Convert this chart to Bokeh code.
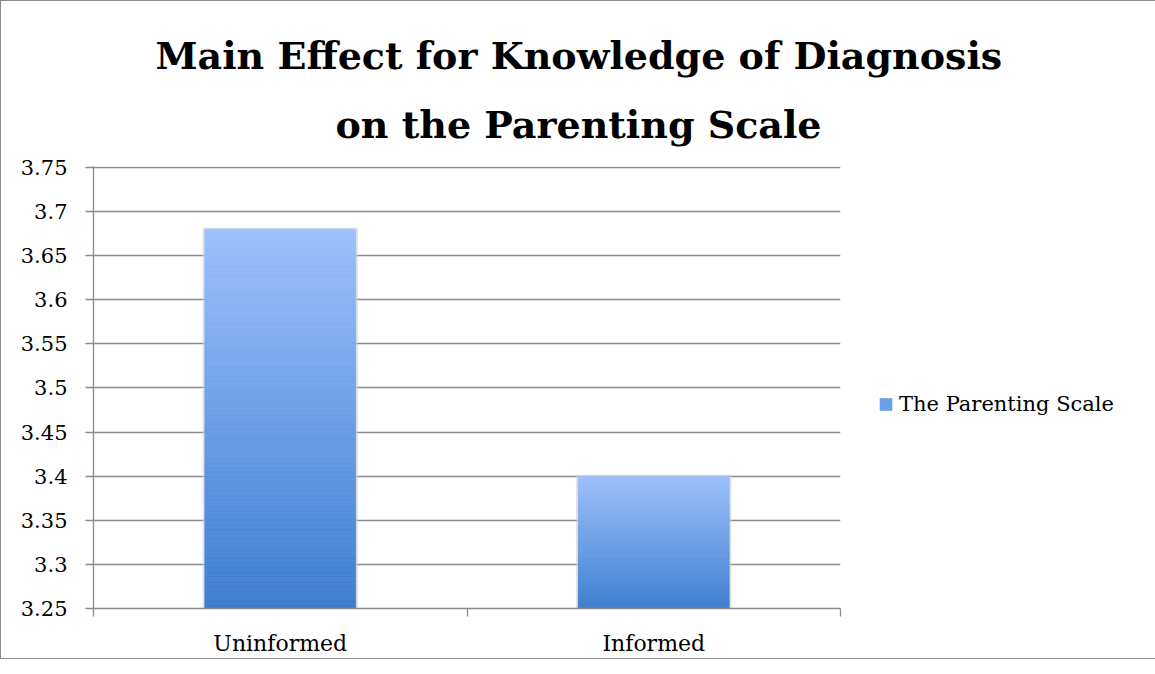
import numpy as np
from bokeh.plotting import figure
from bokeh.models import Range1d, FixedTicker, Legend, LegendItem, Title
from bokeh.embed import file_html
from bokeh.resources import INLINE

# ---- data ----
title_lines = ["Main Effect for Knowledge of Diagnosis", "on the Parenting Scale"]
categories = ["Uninformed", "Informed"]
values = [3.68, 3.40]
series_name = "The Parenting Scale"
y_ticks = [3.25, 3.30, 3.35, 3.40, 3.45, 3.50, 3.55, 3.60, 3.65, 3.70, 3.75]
y_labels = ["3.25", "3.3", "3.35", "3.4", "3.45", "3.5", "3.55", "3.6", "3.65", "3.7", "3.75"]
y_min, y_max = 3.25, 3.75

SERIF = "DejaVu Serif"
GRID = "#8c8c8c"

p = figure(frame_width=747, frame_height=442, output_backend="svg", toolbar_location=None,
           x_range=Range1d(0, len(categories)), y_range=Range1d(y_min, y_max + 0.001),
           min_border_left=92, min_border_right=0, min_border_top=165, min_border_bottom=49,
           styles={"border": "1px solid #8c8c8c"})
p.outline_line_color = None
p.background_fill_color = "white"
p.border_fill_color = "white"

# gradient bars built from many thin slices
bw = 0.404
N = 150
c_bot = np.array([0x3d, 0x7e, 0xcf])
c_top = np.array([0x9c, 0xc1, 0xfd])
legend_r = None
for i, v in enumerate(values):
    cx = i + 0.5
    p.quad(left=cx - bw / 2 - 0.006, right=cx + bw / 2 + 0.006, bottom=y_min, top=v + 0.0015,
           fill_color="#d0d0d0", fill_alpha=0.6, line_color=None)
    edges = np.linspace(y_min, v, N + 1)
    t = (np.arange(N) + 0.5) / N
    cols = ["#%02x%02x%02x" % tuple((c_bot + (c_top - c_bot) * tt).astype(int)) for tt in t]
    r = p.quad(left=cx - bw / 2, right=cx + bw / 2, bottom=edges[:-1], top=edges[1:],
               fill_color=cols, line_color=cols, line_width=0.6)
    if legend_r is None:
        legend_r = r

# axes
p.xgrid.visible = False
p.ygrid.grid_line_color = GRID
p.ygrid.grid_line_width = 1.3
p.ygrid.ticker = FixedTicker(ticks=y_ticks)

p.yaxis.ticker = FixedTicker(ticks=y_ticks)
p.yaxis.major_label_overrides = {t: l for t, l in zip(y_ticks, y_labels)}
p.yaxis.axis_line_color = GRID
p.yaxis.axis_line_width = 1.3
p.yaxis.major_tick_line_color = GRID
p.yaxis.major_tick_line_width = 1.3
p.yaxis.major_tick_out = 8
p.yaxis.major_tick_in = 0
p.yaxis.minor_tick_line_color = None
p.yaxis.major_label_standoff = 18
p.yaxis.major_label_text_font = SERIF
p.yaxis.major_label_text_font_size = "21px"
p.yaxis.major_label_text_color = "black"

x_centers = [i + 0.5 for i in range(len(categories))]
p.xaxis.ticker = FixedTicker(ticks=x_centers, minor_ticks=list(range(len(categories) + 1)))
p.xaxis.major_label_overrides = {c: lab for c, lab in zip(x_centers, categories)}
p.xaxis.axis_line_color = GRID
p.xaxis.axis_line_width = 1.3
p.xaxis.major_tick_line_color = None
p.xaxis.minor_tick_line_color = GRID
p.xaxis.minor_tick_line_width = 1.3
p.xaxis.minor_tick_out = 8
p.xaxis.minor_tick_in = 0
p.xaxis.major_label_standoff = 14
p.xaxis.major_label_text_font = SERIF
p.xaxis.major_label_text_font_size = "22px"
p.xaxis.major_label_text_color = "black"

# legend in right panel (blank legend title just shifts the item down a little)
legend = Legend(items=[LegendItem(label=series_name, renderers=[legend_r], index=N // 2)],
                location="left", border_line_color=None, background_fill_alpha=0,
                title=" ", title_text_font_size="20px", title_standoff=10,
                glyph_width=15, glyph_height=15, label_standoff=6, padding=2, margin=38,
                label_text_font=SERIF, label_text_font_size="21px", label_text_color="black")
p.add_layout(legend, "right")

# title (two lines), last line added first so it sits nearest the plot
title_offsets = [62, 242]
title_standoffs = [8, 36]
for line, off, so in reversed(list(zip(title_lines, title_offsets, title_standoffs))):
    p.add_layout(Title(text=line, align="left", vertical_align="top", offset=off, standoff=so,
                       text_font=SERIF, text_font_style="bold", text_font_size="38px",
                       text_color="black"), "above")

open("out.html", "w").write(file_html(p, INLINE))
